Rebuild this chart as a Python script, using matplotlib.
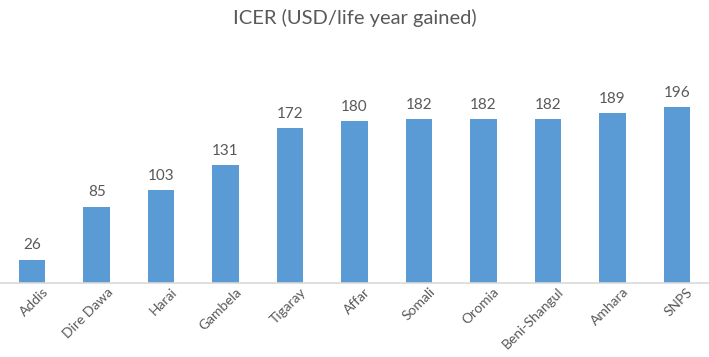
import matplotlib.pyplot as plt
import matplotlib.transforms as mtransforms

# Data
regions = ['Addis', 'Dire Dawa', 'Harai', 'Gambela', 'Tigaray', 'Affar',
           'Somali', 'Oromia', 'Beni-Shangul', 'Amhara', 'SNPS']
icer = [26, 85, 103, 131, 172, 180, 182, 182, 182, 189, 196]

plt.rcParams['font.family'] = ['Lato', 'DejaVu Sans']
text_color = '#595959'

fig = plt.figure(figsize=(7.09, 3.57), dpi=100)
ax = fig.add_axes([0.0, 0.2073, 1.0, 0.597])

x = range(len(regions))
bars = ax.bar(x, icer, width=0.41, color='#5B9BD5')
for b, v in zip(bars, icer):
    ax.text(b.get_x() + b.get_width() / 2, v + 8, str(v), ha='center', va='bottom',
            fontsize=11, color=text_color)

ax.set_xlim(-0.5, len(regions) - 0.5)
ax.set_ylim(0, 237)
ax.set_xticks(list(x))
ax.set_xticklabels(regions, rotation=45, ha='right', rotation_mode='anchor',
                   fontsize=10, color=text_color)
ax.tick_params(axis='x', length=0, pad=2)
shift = mtransforms.ScaledTranslation(7 / 72, 0, fig.dpi_scale_trans)
for lbl in ax.get_xticklabels():
    lbl.set_transform(lbl.get_transform() + shift)
ax.set_yticks([])
for s in ['top', 'right', 'left']:
    ax.spines[s].set_visible(False)
ax.spines['bottom'].set_color('#D9D9D9')
ax.spines['bottom'].set_linewidth(1.2)

fig.text(0.5, 0.95, 'ICER (USD/life year gained)', ha='center', va='center',
         fontsize=14.5, color=text_color)

fig.savefig('out.png', dpi=100)
